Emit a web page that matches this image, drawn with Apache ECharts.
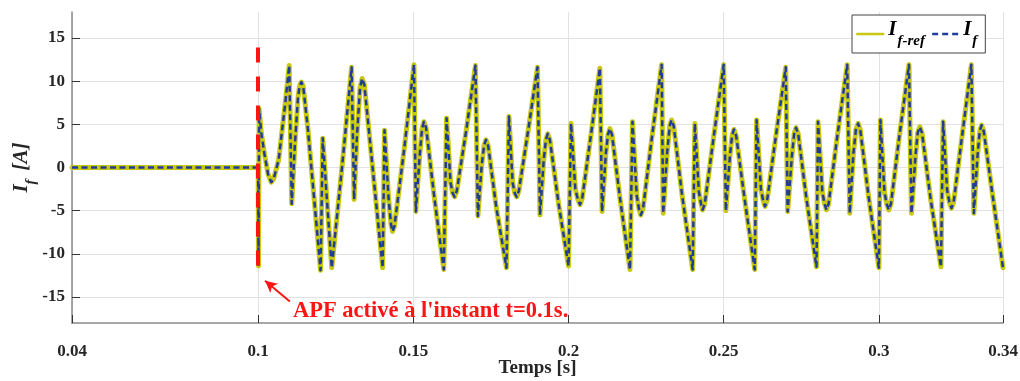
<!DOCTYPE html>
<html><head><meta charset="utf-8">
<script src="https://cdn.jsdelivr.net/npm/echarts@6/dist/echarts.min.js"></script>
<style>html,body{margin:0;padding:0;background:#fff}#c{width:1020px;height:381px}</style>
</head><body><div id="c"></div>
<script>
// Time axis (s) and filter current reference (A)
const timeS = [
0.040,0.1000,0.1001,0.1003,0.1010,0.1020,0.1032,0.1042,0.1050,0.1066,0.1087,
0.1100,0.1108,0.1118,0.1128,0.1133,0.1139,0.1145,0.1160,0.1180,
0.1201,0.1208,0.1222,0.1237,0.1270,
0.1301,0.1309,0.1318,0.1328,0.1335,0.1342,0.1370,
0.1401,0.1407,0.1420,0.1428,0.1433,0.1439,0.1470,
0.1502,0.1508,0.1520,0.1528,0.1534,0.1541,0.1568,
0.1598,0.1607,0.1620,0.1627,0.1633,0.1640,0.1670,
0.1700,0.1708,0.1720,0.1728,0.1734,0.1741,0.1768,
0.1800,0.1808,0.1820,0.1827,0.1833,0.1840,0.1870,
0.1900,0.1908,0.1920,0.1927,0.1933,0.1940,0.1968,
0.2000,0.2008,0.2022,0.2030,0.2037,0.2044,0.2072,
0.2101,0.2108,0.2120,0.2127,0.2133,0.2140,0.2166,
0.2198,0.2206,0.2220,0.2227,0.2233,0.2240,0.2268,
0.2300,0.2305,0.2318,0.2326,0.2332,0.2339,0.2366,
0.2400,0.2407,0.2420,0.2427,0.2432,0.2439,0.2468,
0.2500,0.2507,0.2520,0.2527,0.2533,0.2540,0.2568,
0.2600,0.2606,0.2620,0.2627,0.2633,0.2640,0.2668,
0.2700,0.2706,0.2720,0.2727,0.2733,0.2740,0.2767,
0.2799,0.2804,0.2818,0.2825,0.2831,0.2838,0.2866,
0.2898,0.2906,0.2918,0.2926,0.2933,0.2940,0.2967,
0.3000,0.3005,0.3018,0.3025,0.3032,0.3039,0.3066,
0.3097,0.3105,0.3118,0.3125,0.3132,0.3139,0.3167,
0.3200,0.3207,0.3220,0.3227,0.3234,0.3241,0.3268,
0.3298,0.3306,0.3318,0.3325,0.3331,0.3338,0.3368,
0.3400
];
const ifRef = [
0,0,-11.4,6.8,4.0,1.6,-0.8,-1.7,-1.3,0.9,7.4,
11.8,-4.2,2.5,8.0,9.4,9.9,9.4,4.5,-3.5,
-11.9,3.4,-4.0,-11.6,0.0,
11.6,-3.7,3.5,9.2,10.3,9.6,-0.5,
-11.6,4.3,-3.5,-6.6,-7.4,-6.8,2.0,
11.9,-5.1,1.2,4.5,5.3,4.6,-3.6,
-11.8,5.7,-1.8,-3.0,-3.4,-2.7,4.2,
11.8,-5.6,0.2,2.6,3.2,2.5,-4.8,
-11.6,5.9,-1.8,-3.0,-3.4,-2.7,4.3,
11.6,-5.5,0.8,3.2,3.9,3.2,-4.2,
-11.4,5.1,-2.5,-3.7,-4.3,-3.6,3.7,
11.5,-5.1,1.5,3.8,4.5,3.8,-3.6,
-11.8,5.3,-3.3,-4.8,-5.5,-4.8,3.3,
11.9,-5.3,1.8,4.8,5.5,4.8,-3.2,
-11.8,5.1,-2.8,-4.2,-4.9,-4.2,3.6,
11.9,-5.0,1.3,3.7,4.4,3.7,-3.8,
-11.8,5.5,-2.5,-3.8,-4.5,-3.8,3.6,
11.6,-5.1,1.4,3.9,4.6,3.9,-3.7,
-11.5,5.3,-2.9,-4.2,-4.9,-4.2,3.6,
11.9,-5.3,1.6,4.4,5.1,4.4,-3.4,
-11.6,5.5,-2.8,-4.2,-4.9,-4.2,3.6,
11.9,-5.3,1.3,4.0,4.7,4.0,-3.7,
-11.5,5.3,-2.6,-4.0,-4.7,-4.0,3.6,
11.9,-5.3,1.4,4.2,4.9,4.2,-3.6,
-11.6
];
// measured filter current: indistinguishable from the reference in the picture
const ifMeas = ifRef;
const xTickValues = [0.04, 0.1, 0.15, 0.2, 0.25, 0.3, 0.34];
const yTickValues = [-15, -10, -5, 0, 5, 10, 15];
const annotationText = "APF activé à l'instant t=0.1s.";

const FONT = 'Liberation Serif';
const refData = timeS.map((t, i) => [t, ifRef[i]]);
const measData = timeS.map((t, i) => [t, ifMeas[i]]);

const chart = echarts.init(document.getElementById('c'), null, {renderer: 'canvas'});
const axisLabelStyle = {fontFamily: FONT, fontWeight: 'bold', fontSize: 17, color: '#262626'};
chart.setOption({
  animation: false,
  backgroundColor: '#fff',
  grid: {left: 72, right: 17, top: 12, bottom: 58, containLabel: false, outerBoundsMode: 'none'},
  legend: {
    left: 852, top: 15,
    padding: [4, 8, 4, 4],
    itemGap: 6, itemWidth: 26, itemHeight: 14,
    borderColor: '#444', borderWidth: 1, backgroundColor: '#fff',
    data: [
      {name: 'If-ref', lineStyle: {width: 2.5, type: 'solid'}, itemStyle: {opacity: 0}},
      {name: 'If', lineStyle: {width: 2.5, type: [6, 4]}, itemStyle: {opacity: 0}}
    ],
    formatter: n => n === 'If-ref' ? '{i|I}{s|f-ref}' : '{i|I}{s|f}',
    textStyle: {
      rich: {
        i: {fontFamily: FONT, fontSize: 21, fontWeight: 'bold', fontStyle: 'italic', color: '#000', verticalAlign: 'top', padding: [0, 1, 9, 0]},
        s: {fontFamily: FONT, fontSize: 15, fontWeight: 'bold', fontStyle: 'italic', color: '#000', verticalAlign: 'bottom'}
      }
    }
  },
  xAxis: {
    type: 'value', min: 0.04, max: 0.34,
    name: 'Temps [s]', nameLocation: 'middle', nameGap: 36, nameMoveOverlap: false,
    nameTextStyle: {fontFamily: FONT, fontWeight: 'bold', fontSize: 19, color: '#262626'},
    axisLine: {show: true, onZero: false, lineStyle: {color: '#8a8a8a', width: 1.5}},
    axisTick: {show: true, inside: true, length: 8, customValues: xTickValues, lineStyle: {color: '#333'}},
    axisLabel: {customValues: xTickValues, margin: 20, ...axisLabelStyle, formatter: v => String(v)},
    splitLine: {show: true, lineStyle: {color: '#e2e2e2', width: 1}}
  },
  yAxis: {
    type: 'value', min: -18, max: 18,
    name: '{i|I}{s|f}{g| }{i|[A]}', nameLocation: 'middle', nameGap: 33, nameMoveOverlap: false,
    nameTextStyle: {
      rich: {
        i: {fontFamily: FONT, fontSize: 21, fontWeight: 'bold', fontStyle: 'italic', color: '#262626', verticalAlign: 'top', padding: [0, 0, 7, 0]},
        s: {fontFamily: FONT, fontSize: 15, fontWeight: 'bold', fontStyle: 'italic', color: '#262626', verticalAlign: 'bottom'},
        g: {fontFamily: FONT, fontSize: 21, width: 9}
      }
    },
    axisLine: {show: true, onZero: false, lineStyle: {color: '#8a8a8a', width: 1.5}},
    axisTick: {show: true, inside: true, length: 8, customValues: yTickValues, lineStyle: {color: '#333'}},
    axisLabel: {customValues: yTickValues, margin: 7, ...axisLabelStyle},
    splitLine: {show: true, lineStyle: {color: '#e2e2e2', width: 1}}
  },
  series: [
    {
      name: 'If-ref', type: 'line', data: refData, symbol: 'none', z: 2,
      lineStyle: {color: '#c8c814', width: 5, join: 'round', cap: 'round'},
      itemStyle: {color: '#c8c814'}
    },
    {
      name: 'If', type: 'line', data: measData, symbol: 'none', z: 3,
      lineStyle: {color: '#1f3c99', width: 2.5, type: [6, 3.5], join: 'round'},
      itemStyle: {color: '#1f3c99'},
      markLine: {
        silent: true, animation: false,
        label: {show: false},
        data: [
          [{coord: [0.1, 13.9], symbol: 'none', lineStyle: {color: '#ff1414', width: 4, type: [15, 14]}},
           {coord: [0.1, -11.6], symbol: 'none'}],
          [{coord: [0.1102, -15.5], symbol: 'none', lineStyle: {color: '#ff1414', width: 2, type: 'solid'}},
           {coord: [0.1022, -13.1], symbol: 'arrow', symbolSize: [9, 12]}]
        ]
      },
      markPoint: {
        silent: true, animation: false,
        data: [{coord: [0.1112, -16.6], symbol: 'circle', symbolSize: 0,
          label: {show: true, position: 'right', distance: 0, formatter: annotationText,
            fontFamily: FONT, fontWeight: 'bold', fontSize: 22.5, color: '#ff1414'}}]
      }
    }
  ]
});
</script></body></html>
